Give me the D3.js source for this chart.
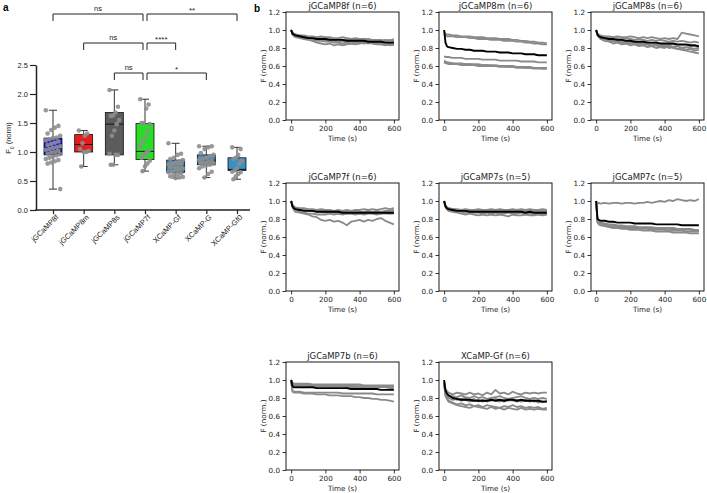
<!DOCTYPE html>
<html><head><meta charset="utf-8">
<script src="https://cdn.jsdelivr.net/npm/d3@7"></script>
<style>body{margin:0;background:#fff}svg{display:block}</style>
</head><body>
<script>
// ---------- Panel a data ----------
const categories = ["jGCaMP8f","jGCaMP8m","jGCaMP8s","jGCaMP7f","XCaMP-Gf","XCaMP-G","XCaMP-Gf0"];
const boxColors = ["#1414e6","#e61e1e","#5c5c5c","#28dc28","#3a8fc4","#3a8fc4","#3a8fc4"];
const q1 =      [0.95,1.00,0.95,0.87,0.65,0.78,0.68];
const medians = [1.05,1.13,1.48,1.01,0.76,0.86,0.70];
const q3 =      [1.24,1.30,1.68,1.49,0.86,0.95,0.90];
const whiskLo = [0.36,0.75,0.78,0.67,0.55,0.56,0.53];
const whiskHi = [1.72,1.37,2.07,1.91,1.15,1.10,1.08];
const dots8f = [1.72,1.45,1.42,1.38,1.32,1.28,1.25,1.24,1.22,1.20,1.18,1.16,1.14,1.12,1.10,1.08,1.07,1.05,1.04,1.02,1.00,0.99,0.97,0.96,0.94,0.92,0.90,0.88,0.86,0.84,0.82,0.80,0.36];
const dots8m = [1.37,1.32,1.28,1.15,1.05,1.02,1.00,1.00,0.75];
const dots8s = [2.07,1.78,1.68,1.63,1.62,1.55,1.48,1.37,1.28,0.97,0.95,0.95,0.78,0.78];
const dots7f = [1.91,1.82,1.75,1.50,1.50,1.48,1.35,1.25,1.18,1.10,1.02,0.98,0.95,0.90,0.85,0.80,0.75,0.67];
const dotsXGf = [1.15,0.97,0.95,0.90,0.88,0.86,0.84,0.82,0.80,0.78,0.78,0.76,0.75,0.74,0.72,0.70,0.68,0.66,0.65,0.63,0.62,0.60,0.58,0.57,0.56,0.55];
const dotsXG = [1.10,1.10,1.08,1.05,0.98,0.95,0.93,0.90,0.88,0.86,0.85,0.84,0.82,0.80,0.80,0.78,0.77,0.75,0.72,0.66,0.62,0.56];
const dotsXGf0 = [1.08,1.05,0.95,0.90,0.88,0.85,0.80,0.72,0.68,0.66,0.65,0.62,0.58,0.53];
const dotSets = [dots8f,dots8m,dots8s,dots7f,dotsXGf,dotsXG,dotsXGf0];
const yTicksA = [0,0.5,1.0,1.5,2.0,2.5];
// comparisons: [from, to, level, label]
const comparisons = [
  ["jGCaMP8f","jGCaMP7f",0,"ns"],["jGCaMP7f","XCaMP-Gf0",0,"**"],
  ["jGCaMP8m","jGCaMP7f",1,"ns"],["jGCaMP7f","XCaMP-Gf",1,"****"],
  ["jGCaMP8s","jGCaMP7f",2,"ns"],["jGCaMP7f","XCaMP-G",2,"*"]
];

// ---------- Panel b data ----------
const T = [0,8,16,25,50,75,100,125,150,175,200,225,250,275,300,325,350,375,400,425,450,475,500,525,550,575,600];
const panelTitles = ["jGCaMP8f (n=6)","jGCaMP8m (n=6)","jGCaMP8s (n=6)","jGCaMP7f (n=6)","jGCaMP7s (n=5)","jGCaMP7c (n=5)","jGCaMP7b (n=6)","XCaMP-Gf (n=6)"];
const xTicksB = [0,200,400,600];
const yTicksB = [0,0.2,0.4,0.6,0.8,1.0,1.2];

const traces8f = [
 [1.0,0.97,0.96,0.95,0.94,0.94,0.93,0.93,0.92,0.93,0.92,0.92,0.91,0.91,0.92,0.91,0.90,0.91,0.90,0.90,0.90,0.89,0.89,0.89,0.88,0.89,0.88],
 [1.0,0.96,0.95,0.94,0.93,0.92,0.92,0.91,0.91,0.90,0.91,0.90,0.89,0.90,0.89,0.89,0.88,0.89,0.88,0.88,0.88,0.87,0.88,0.87,0.87,0.86,0.87],
 [1.0,0.95,0.93,0.92,0.91,0.90,0.89,0.88,0.86,0.85,0.84,0.85,0.83,0.84,0.83,0.84,0.85,0.84,0.85,0.86,0.85,0.86,0.85,0.84,0.85,0.83,0.84],
 [1.0,0.95,0.94,0.93,0.92,0.91,0.90,0.90,0.89,0.89,0.88,0.88,0.88,0.87,0.88,0.87,0.87,0.87,0.86,0.87,0.86,0.86,0.86,0.85,0.86,0.85,0.85],
 [1.0,0.96,0.94,0.93,0.92,0.91,0.90,0.89,0.88,0.88,0.87,0.87,0.86,0.86,0.85,0.86,0.85,0.86,0.86,0.85,0.86,0.85,0.84,0.84,0.83,0.84,0.83],
 [1.0,0.97,0.96,0.95,0.94,0.93,0.92,0.92,0.91,0.91,0.90,0.90,0.90,0.90,0.89,0.90,0.89,0.89,0.89,0.89,0.88,0.89,0.88,0.88,0.89,0.88,0.90]];
const mean8f = [1.0,0.96,0.95,0.94,0.93,0.92,0.91,0.91,0.90,0.90,0.90,0.89,0.89,0.89,0.89,0.88,0.88,0.88,0.88,0.88,0.87,0.87,0.87,0.87,0.86,0.86,0.86];

const traces8m = [
 [0.98,0.96,0.95,0.95,0.94,0.94,0.93,0.93,0.93,0.92,0.92,0.92,0.91,0.91,0.91,0.90,0.90,0.90,0.89,0.89,0.88,0.88,0.87,0.87,0.86,0.86,0.85],
 [0.96,0.94,0.93,0.93,0.93,0.92,0.92,0.92,0.91,0.91,0.90,0.90,0.90,0.89,0.89,0.89,0.88,0.88,0.88,0.87,0.87,0.86,0.86,0.85,0.85,0.84,0.84],
 [0.71,0.70,0.70,0.70,0.69,0.69,0.69,0.68,0.68,0.68,0.68,0.67,0.67,0.67,0.67,0.66,0.66,0.66,0.66,0.66,0.65,0.65,0.65,0.65,0.64,0.64,0.64],
 [0.66,0.65,0.64,0.64,0.63,0.63,0.63,0.62,0.62,0.62,0.62,0.61,0.61,0.61,0.61,0.60,0.60,0.60,0.60,0.59,0.59,0.59,0.59,0.58,0.58,0.58,0.58],
 [0.64,0.63,0.63,0.62,0.62,0.62,0.61,0.61,0.61,0.61,0.60,0.60,0.60,0.60,0.60,0.59,0.59,0.59,0.59,0.58,0.58,0.58,0.58,0.57,0.57,0.57,0.57],
 [0.65,0.64,0.64,0.63,0.63,0.62,0.62,0.62,0.62,0.61,0.61,0.61,0.61,0.60,0.60,0.60,0.60,0.59,0.59,0.59,0.59,0.58,0.58,0.58,0.58,0.57,0.57]];
const mean8m = [1.0,0.86,0.82,0.81,0.80,0.79,0.79,0.78,0.78,0.77,0.77,0.77,0.76,0.76,0.76,0.75,0.75,0.75,0.74,0.74,0.74,0.73,0.73,0.73,0.72,0.72,0.72];

const traces8s = [
 [1.0,0.96,0.95,0.94,0.93,0.93,0.92,0.93,0.92,0.92,0.93,0.92,0.91,0.92,0.91,0.92,0.91,0.90,0.91,0.90,0.91,0.90,0.97,0.96,0.95,0.94,0.93],
 [1.0,0.95,0.94,0.93,0.92,0.91,0.92,0.91,0.90,0.91,0.90,0.89,0.90,0.89,0.88,0.89,0.88,0.89,0.88,0.87,0.88,0.87,0.88,0.87,0.86,0.87,0.86],
 [1.0,0.94,0.92,0.90,0.88,0.87,0.85,0.86,0.84,0.85,0.83,0.84,0.82,0.83,0.81,0.82,0.80,0.81,0.80,0.82,0.80,0.79,0.80,0.78,0.79,0.77,0.78],
 [1.0,0.95,0.93,0.92,0.90,0.89,0.88,0.87,0.86,0.85,0.86,0.84,0.85,0.83,0.84,0.82,0.83,0.81,0.82,0.80,0.81,0.79,0.78,0.77,0.76,0.75,0.74],
 [1.0,0.94,0.93,0.91,0.90,0.88,0.87,0.88,0.86,0.87,0.85,0.86,0.84,0.85,0.84,0.83,0.84,0.83,0.82,0.83,0.81,0.82,0.80,0.81,0.80,0.79,0.80],
 [1.0,0.95,0.94,0.92,0.91,0.90,0.89,0.89,0.88,0.88,0.87,0.87,0.86,0.86,0.86,0.85,0.85,0.85,0.84,0.84,0.84,0.83,0.83,0.83,0.82,0.82,0.81]];
const mean8s = [1.0,0.95,0.93,0.92,0.91,0.90,0.90,0.89,0.89,0.88,0.88,0.87,0.87,0.87,0.86,0.86,0.86,0.85,0.85,0.85,0.85,0.84,0.84,0.84,0.83,0.83,0.82];

const traces7f = [
 [1.0,0.96,0.94,0.93,0.92,0.92,0.91,0.91,0.90,0.91,0.90,0.90,0.89,0.90,0.89,0.90,0.89,0.90,0.90,0.91,0.90,0.91,0.90,0.91,0.92,0.91,0.92],
 [1.0,0.95,0.93,0.92,0.91,0.91,0.90,0.90,0.89,0.89,0.89,0.88,0.89,0.88,0.88,0.88,0.87,0.88,0.88,0.88,0.89,0.88,0.89,0.88,0.89,0.89,0.90],
 [1.0,0.94,0.92,0.91,0.90,0.90,0.89,0.89,0.88,0.88,0.87,0.87,0.87,0.86,0.86,0.86,0.86,0.87,0.86,0.86,0.87,0.86,0.86,0.86,0.86,0.86,0.86],
 [1.0,0.93,0.90,0.88,0.87,0.86,0.85,0.83,0.82,0.79,0.78,0.79,0.77,0.78,0.76,0.73,0.77,0.78,0.79,0.77,0.79,0.78,0.80,0.81,0.78,0.76,0.74],
 [1.0,0.95,0.93,0.92,0.91,0.90,0.90,0.89,0.89,0.89,0.88,0.88,0.88,0.87,0.87,0.88,0.87,0.87,0.88,0.87,0.87,0.88,0.87,0.88,0.88,0.87,0.88],
 [1.0,0.94,0.92,0.90,0.88,0.87,0.86,0.86,0.85,0.85,0.85,0.86,0.85,0.86,0.85,0.86,0.86,0.85,0.86,0.85,0.86,0.86,0.85,0.86,0.87,0.86,0.87]];
const mean7f = [1.0,0.94,0.92,0.91,0.90,0.89,0.89,0.89,0.88,0.88,0.88,0.88,0.88,0.88,0.87,0.87,0.87,0.87,0.87,0.87,0.87,0.87,0.87,0.87,0.87,0.87,0.87];

const traces7s = [
 [1.0,0.95,0.93,0.92,0.91,0.91,0.90,0.91,0.90,0.90,0.91,0.90,0.90,0.91,0.90,0.91,0.90,0.90,0.91,0.90,0.91,0.90,0.91,0.90,0.90,0.91,0.90],
 [1.0,0.94,0.92,0.91,0.90,0.90,0.89,0.89,0.89,0.88,0.89,0.88,0.89,0.88,0.89,0.88,0.88,0.89,0.88,0.88,0.89,0.88,0.88,0.88,0.89,0.88,0.89],
 [1.0,0.93,0.91,0.89,0.88,0.87,0.86,0.85,0.86,0.85,0.84,0.85,0.84,0.85,0.84,0.85,0.84,0.83,0.85,0.84,0.84,0.85,0.84,0.84,0.85,0.84,0.85],
 [1.0,0.94,0.92,0.90,0.89,0.88,0.88,0.87,0.88,0.87,0.87,0.86,0.87,0.86,0.87,0.86,0.86,0.87,0.86,0.86,0.87,0.86,0.86,0.85,0.86,0.85,0.86],
 [1.0,0.95,0.93,0.92,0.91,0.90,0.90,0.90,0.89,0.90,0.89,0.89,0.90,0.89,0.89,0.90,0.89,0.89,0.89,0.90,0.89,0.89,0.90,0.89,0.89,0.90,0.89]];
const mean7s = [1.0,0.94,0.92,0.91,0.90,0.89,0.89,0.89,0.88,0.88,0.88,0.88,0.88,0.88,0.88,0.88,0.88,0.88,0.88,0.88,0.88,0.87,0.88,0.87,0.87,0.87,0.87];

const traces7c = [
 [1.0,0.97,0.98,0.97,0.98,0.97,0.98,0.98,0.97,0.98,0.98,0.97,0.98,0.98,0.99,0.98,0.99,1.00,0.99,1.01,1.00,1.02,1.01,1.00,1.01,1.00,1.02],
 [1.0,0.78,0.76,0.75,0.74,0.73,0.73,0.72,0.72,0.71,0.71,0.71,0.70,0.70,0.70,0.70,0.69,0.69,0.69,0.69,0.68,0.68,0.68,0.68,0.68,0.67,0.67],
 [1.0,0.77,0.75,0.74,0.73,0.72,0.72,0.71,0.71,0.70,0.70,0.70,0.69,0.69,0.69,0.68,0.68,0.68,0.68,0.67,0.67,0.67,0.67,0.66,0.66,0.66,0.66],
 [1.0,0.76,0.74,0.73,0.72,0.71,0.70,0.70,0.69,0.69,0.68,0.68,0.68,0.67,0.67,0.67,0.66,0.66,0.66,0.66,0.65,0.65,0.65,0.65,0.64,0.64,0.64],
 [1.0,0.78,0.77,0.76,0.75,0.74,0.74,0.73,0.73,0.72,0.72,0.72,0.71,0.71,0.71,0.71,0.70,0.70,0.70,0.70,0.70,0.69,0.69,0.69,0.69,0.68,0.68]];
const mean7c = [1.0,0.80,0.79,0.78,0.78,0.77,0.77,0.76,0.76,0.76,0.76,0.75,0.75,0.75,0.75,0.75,0.74,0.74,0.74,0.74,0.74,0.74,0.73,0.73,0.73,0.73,0.73];

const traces7b = [
 [1.0,0.97,0.96,0.96,0.96,0.96,0.96,0.95,0.95,0.95,0.95,0.95,0.95,0.95,0.95,0.95,0.95,0.95,0.95,0.94,0.94,0.94,0.94,0.94,0.94,0.94,0.94],
 [1.0,0.96,0.95,0.95,0.95,0.95,0.95,0.94,0.94,0.94,0.94,0.94,0.94,0.94,0.94,0.94,0.94,0.93,0.93,0.93,0.93,0.93,0.93,0.93,0.93,0.93,0.93],
 [1.0,0.95,0.94,0.94,0.94,0.94,0.94,0.93,0.93,0.93,0.93,0.93,0.93,0.93,0.93,0.92,0.92,0.92,0.92,0.92,0.92,0.92,0.92,0.92,0.92,0.91,0.91],
 [1.0,0.96,0.95,0.95,0.95,0.94,0.94,0.94,0.94,0.94,0.94,0.93,0.93,0.93,0.93,0.93,0.93,0.93,0.93,0.93,0.92,0.92,0.92,0.92,0.92,0.92,0.92],
 [0.99,0.88,0.87,0.87,0.87,0.86,0.86,0.86,0.86,0.86,0.86,0.86,0.86,0.86,0.85,0.85,0.85,0.85,0.85,0.85,0.85,0.85,0.84,0.84,0.84,0.84,0.84],
 [0.98,0.87,0.86,0.86,0.86,0.85,0.85,0.85,0.84,0.84,0.84,0.83,0.83,0.83,0.82,0.82,0.82,0.81,0.81,0.80,0.80,0.79,0.79,0.78,0.78,0.77,0.76]];
const mean7b = [1.0,0.93,0.92,0.92,0.92,0.92,0.92,0.92,0.91,0.91,0.91,0.91,0.91,0.91,0.91,0.91,0.90,0.90,0.90,0.90,0.90,0.90,0.90,0.89,0.89,0.89,0.89];

const tracesXGf = [
 [0.98,0.90,0.88,0.86,0.84,0.86,0.85,0.84,0.86,0.84,0.85,0.83,0.86,0.84,0.89,0.85,0.86,0.84,0.87,0.85,0.84,0.86,0.85,0.86,0.85,0.86,0.86],
 [0.97,0.87,0.86,0.83,0.82,0.81,0.83,0.81,0.80,0.82,0.80,0.81,0.79,0.80,0.81,0.82,0.80,0.79,0.80,0.81,0.82,0.80,0.79,0.80,0.79,0.80,0.79],
 [0.96,0.85,0.82,0.80,0.78,0.79,0.77,0.78,0.76,0.77,0.78,0.76,0.77,0.78,0.77,0.76,0.78,0.77,0.78,0.76,0.77,0.78,0.76,0.77,0.75,0.76,0.76],
 [0.95,0.83,0.80,0.77,0.75,0.73,0.74,0.72,0.73,0.71,0.72,0.70,0.72,0.71,0.70,0.69,0.71,0.70,0.72,0.70,0.71,0.69,0.70,0.69,0.70,0.68,0.69],
 [0.96,0.82,0.79,0.76,0.74,0.72,0.71,0.70,0.69,0.71,0.70,0.69,0.68,0.70,0.68,0.69,0.67,0.69,0.68,0.67,0.69,0.67,0.68,0.67,0.68,0.67,0.67],
 [0.97,0.86,0.84,0.82,0.80,0.78,0.79,0.80,0.77,0.79,0.76,0.78,0.76,0.77,0.79,0.78,0.76,0.78,0.77,0.78,0.76,0.77,0.78,0.76,0.77,0.75,0.77]];
const meanXGf = [1.0,0.88,0.85,0.83,0.80,0.79,0.78,0.78,0.78,0.77,0.77,0.77,0.77,0.78,0.77,0.78,0.77,0.78,0.78,0.77,0.78,0.77,0.77,0.77,0.77,0.76,0.76];

const allTraces = [traces8f,traces8m,traces8s,traces7f,traces7s,traces7c,traces7b,tracesXGf];
const allMeans = [mean8f,mean8m,mean8s,mean7f,mean7s,mean7c,mean7b,meanXGf];

// ---------- Drawing ----------
const W = 707, H = 493;
const svg = d3.select("body").append("svg").attr("width", W).attr("height", H);
const FA = "'Liberation Sans', Arial, sans-serif";
const FB = "'DejaVu Sans', sans-serif";

// Panel a
const gA = svg.append("g");
const yA = d3.scaleLinear().domain([0, 2.5]).range([210, 65]);
const xA = d3.scalePoint().domain(categories).range([53, 237]);
const boxW = 18;

gA.append("text").attr("x", 3).attr("y", 11).attr("font-family", FA).attr("font-weight", "bold").attr("font-size", 10).text("a");

const yAxA = gA.append("g").attr("transform", "translate(36,0)")
  .call(d3.axisLeft(yA).tickValues(yTicksA).tickFormat(d3.format(".1f")).tickSize(6).tickSizeOuter(0).tickPadding(2));
yAxA.select(".domain").attr("stroke", "#222").attr("stroke-width", 1.5);
yAxA.selectAll(".tick line").attr("stroke", "#222").attr("stroke-width", 1.2);
yAxA.selectAll(".tick text").attr("font-family", FA).attr("font-size", 7.5).attr("fill", "#222");

const xAxA = gA.append("g").attr("transform", "translate(0,210)")
  .call(d3.axisBottom(xA).tickSize(4).tickSizeOuter(0).tickFormat(""));
xAxA.select(".domain").remove();
xAxA.selectAll(".tick line").attr("stroke", "#222").attr("stroke-width", 1.2);
gA.append("line").attr("x1", 35.3).attr("x2", 250).attr("y1", 210).attr("y2", 210).attr("stroke", "#222").attr("stroke-width", 1.5);

gA.selectAll("text.xl").data(categories).join("text").attr("class", "xl")
  .attr("transform", d => `translate(${xA(d) + 4},${216}) rotate(-45)`)
  .attr("text-anchor", "end").attr("dy", "0.35em")
  .attr("font-family", FA).attr("font-size", 7.5).attr("fill", "#222").text(d => d);

const yl = gA.append("text").attr("transform", "translate(11,138) rotate(-90)")
  .attr("text-anchor", "middle").attr("font-family", FA).attr("font-size", 7.5).attr("fill", "#222");
yl.append("tspan").text("F");
yl.append("tspan").attr("baseline-shift", "sub").attr("font-size", 5).text("0");
yl.append("tspan").text(" (norm)");

categories.forEach((c, i) => {
  const cx = xA(c);
  gA.append("line").attr("x1", cx).attr("x2", cx).attr("y1", yA(whiskLo[i])).attr("y2", yA(whiskHi[i])).attr("stroke", "#333").attr("stroke-width", 1);
  [whiskLo[i], whiskHi[i]].forEach(v => gA.append("line").attr("x1", cx - 4).attr("x2", cx + 4).attr("y1", yA(v)).attr("y2", yA(v)).attr("stroke", "#333").attr("stroke-width", 1));
  gA.append("rect").attr("x", cx - boxW / 2).attr("y", yA(q3[i])).attr("width", boxW).attr("height", yA(q1[i]) - yA(q3[i]))
    .attr("fill", boxColors[i]).attr("stroke", "#111").attr("stroke-width", 0.8);
  gA.append("line").attr("x1", cx - boxW / 2).attr("x2", cx + boxW / 2).attr("y1", yA(medians[i])).attr("y2", yA(medians[i])).attr("stroke", "#111").attr("stroke-width", 1);
  gA.selectAll(null).data(dotSets[i]).join("circle")
    .attr("cx", (d, j) => cx + (((j * 7) % 9) - 4) * (dotSets[i].length > 20 ? 1.8 : 1.2))
    .attr("cy", d => yA(d)).attr("r", 2.3).attr("fill", "#8e8e8e").attr("fill-opacity", 0.9);
});

// brackets
const levelY = [14, 43, 73];
comparisons.forEach(([a, b, lv, lab]) => {
  let x1 = xA(a), x2 = xA(b);
  if (a === "jGCaMP7f") x1 += 2; if (b === "jGCaMP7f") x2 -= 2;
  const y = levelY[lv];
  gA.append("path").attr("d", `M${x1},${y + 7}V${y}H${x2}V${y + 7}`).attr("fill", "none").attr("stroke", "#222").attr("stroke-width", 1);
  gA.append("text").attr("x", (x1 + x2) / 2).attr("y", y - (lab.startsWith("*") ? 1.5 : 3)).attr("text-anchor", "middle")
    .attr("font-family", FA).attr("font-size", lab.startsWith("*") ? 8 : 7.5).attr("fill", "#222").text(lab);
});

// Panel b
svg.append("text").attr("x", 254).attr("y", 12).attr("font-family", FA).attr("font-weight", "bold").attr("font-size", 10).text("b");
const lefts = [286, 439, 591], tops = [12, 183, 362];
const pw = 113, ph = 108;
panelTitles.forEach((title, i) => {
  const col = i % 3, row = Math.floor(i / 3);
  const g = svg.append("g").attr("transform", `translate(${lefts[col]},${tops[row]})`);
  const x = d3.scaleLinear().domain([-30, 630]).range([0, pw]);
  const y = d3.scaleLinear().domain([0, 1.2]).range([ph, 0]);
  const line = d3.line().x((d, k) => x(T[k])).y(d => y(d));
  g.selectAll("path.tr").data(allTraces[i]).join("path").attr("class", "tr")
    .attr("d", line).attr("fill", "none").attr("stroke", "#8a8a8a").attr("stroke-width", 1.8).attr("stroke-linejoin", "round");
  g.append("path").attr("d", line(allMeans[i])).attr("fill", "none").attr("stroke", "#000").attr("stroke-width", 1.9).attr("stroke-linejoin", "round");
  const ax = g.append("g").attr("transform", `translate(0,${ph})`)
    .call(d3.axisBottom(x).tickValues(xTicksB).tickSize(3.5).tickSizeOuter(0).tickPadding(2.5));
  const ay = g.append("g").call(d3.axisLeft(y).tickValues(yTicksB).tickFormat(d3.format(".1f")).tickSize(3.5).tickSizeOuter(0).tickPadding(2.5));
  [ax, ay].forEach(a => {
    a.select(".domain").remove();
    a.selectAll(".tick line").attr("stroke", "#000").attr("stroke-width", 0.8);
    a.selectAll(".tick text").attr("font-family", FB).attr("font-size", 7.2).attr("fill", "#222");
  });
  g.append("rect").attr("width", pw).attr("height", ph).attr("fill", "none").attr("stroke", "#000").attr("stroke-width", 0.9);
  g.append("text").attr("x", pw / 2).attr("y", -3.5).attr("text-anchor", "middle").attr("font-family", FB).attr("font-size", 8.5).attr("fill", "#222").text(title);
  g.append("text").attr("x", pw / 2).attr("y", ph + 21).attr("text-anchor", "middle").attr("font-family", FB).attr("font-size", 7.2).attr("fill", "#222").text("Time (s)");
  g.append("text").attr("transform", `translate(-20,${ph / 2}) rotate(-90)`).attr("text-anchor", "middle").attr("font-family", FB).attr("font-size", 7.2).attr("fill", "#222").text("F (norm.)");
});
</script>
</body></html>
